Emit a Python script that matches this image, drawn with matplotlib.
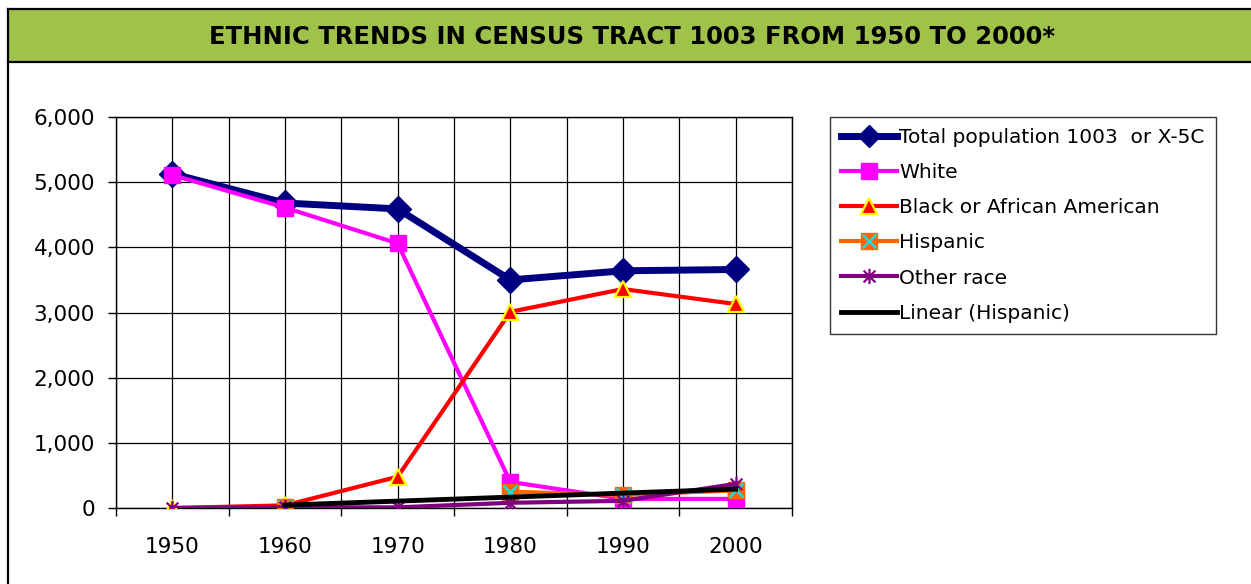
import matplotlib
matplotlib.use('Agg')
import numpy as np
import matplotlib.pyplot as plt
from matplotlib.path import Path
from matplotlib.lines import Line2D
from matplotlib.patches import Rectangle
from matplotlib.ticker import FuncFormatter

plt.rcParams['font.family'] = ['DejaVu Sans']

# data
years = [1950, 1960, 1970, 1980, 1990, 2000]
total = [5130, 4680, 4590, 3500, 3640, 3660]
white = [5110, 4610, 4060, 400, 140, 140]
black = [0, 40, 480, 3010, 3360, 3130]
hispanic = [np.nan, 10, np.nan, 250, 200, 270]
other = [0, 10, 10, 80, 110, 370]

title = 'ETHNIC TRENDS IN CENSUS TRACT 1003 FROM 1950 TO 2000*'
labels = ['Total population 1003  or X-5C', 'White', 'Black or African American',
          'Hispanic', 'Other race', 'Linear (Hispanic)']

# excel style asterisk marker: X plus a vertical bar
star = Path([(-1, -1), (1, 1), (-1, 1), (1, -1), (0, -1.3), (0, 1.3)],
            [Path.MOVETO, Path.LINETO, Path.MOVETO, Path.LINETO, Path.MOVETO, Path.LINETO])

fig = plt.figure(figsize=(12.51, 5.84), dpi=100)

# frame + green title band
W, H = 1251.0, 584.0
fig.patches.append(Rectangle((8 / W, 1 - 62 / H), 1 - 8 / W, 53 / H, transform=fig.transFigure,
                             facecolor='#9FC24B', edgecolor='none', zorder=0))
fig.add_artist(Line2D([8 / W, 1], [1 - 9 / H, 1 - 9 / H], color='black', lw=1.6))
fig.add_artist(Line2D([8 / W, 1], [1 - 62 / H, 1 - 62 / H], color='black', lw=1.6))
fig.add_artist(Line2D([8 / W, 8 / W], [0, 1 - 9 / H], color='black', lw=1.6))
fig.text(632 / W, 1 - 37 / H, title, ha='center', va='center',
         fontsize=17.5, fontweight='bold', color='black')

ax = fig.add_axes([116 / W, 76 / H, 676 / W, 391 / H])

ax.plot(years, total, color='#000080', lw=5, marker='D', ms=13, zorder=3)
ax.plot(years, white, color='#FF00FF', lw=3, marker='s', ms=11.5, zorder=4)
ax.plot(years, black, color='#FF0000', lw=3, marker='^', ms=11, mfc='#FF0000',
        mec='#FFFF00', mew=1.6, zorder=5)
ax.plot(years, hispanic, color='#FF6600', lw=3, marker='s', ms=11, zorder=6)
ax.plot(years, hispanic, ls='none', marker='x', ms=10, mec='#00E5E5', mew=1.8, zorder=6)
ax.plot(years, other, color='#800080', lw=3, marker=star, ms=11, mew=1.6, zorder=7)

# linear trend on the hispanic series
hx = np.array([y for y, v in zip(years, hispanic) if not np.isnan(v)])
hy = np.array([v for v in hispanic if not np.isnan(v)])
k, c = np.polyfit(hx, hy, 1)
tx = np.array([1960, 2000])
ax.plot(tx, k * tx + c, color='black', lw=3.5, zorder=8)

ax.set_xlim(1945, 2005)
ax.set_ylim(0, 6000)
ax.set_xticks(np.arange(1945, 2006, 10))
ax.set_xticklabels([])
ax.set_xticks(years, minor=True)
ax.set_xticklabels([str(y) for y in years], minor=True)
ax.set_yticks(np.arange(0, 6001, 1000))
ax.yaxis.set_major_formatter(FuncFormatter(lambda v, p: f'{int(v):,}'))
ax.tick_params(axis='x', which='major', direction='out', length=6, width=1)
ax.tick_params(axis='x', which='minor', length=0, pad=21, labelsize=15.5)
ax.tick_params(axis='y', direction='out', length=6, width=1, pad=9, labelsize=15.5)
ax.grid(True, which='both', axis='x', color='black', lw=0.9)
ax.grid(True, which='major', axis='y', color='black', lw=0.9)
ax.set_axisbelow(True)
for s in ax.spines.values():
    s.set_color('black')
    s.set_linewidth(1)

h_total = Line2D([], [], color='#000080', lw=5, marker='D', ms=11)
h_white = Line2D([], [], color='#FF00FF', lw=3, marker='s', ms=11)
h_black = Line2D([], [], color='#FF0000', lw=3, marker='^', ms=11, mfc='#FF0000', mec='#FFFF00', mew=1.6)
h_hisp = (Line2D([], [], color='#FF6600', lw=3, marker='s', ms=11),
          Line2D([], [], ls='none', marker='x', ms=10, mec='#00E5E5', mew=1.8))
h_other = Line2D([], [], color='#800080', lw=3, marker=star, ms=11, mew=1.6)
h_lin = Line2D([], [], color='black', lw=3.5)

leg = fig.legend([h_total, h_white, h_black, h_hisp, h_other, h_lin], labels,
                 loc='upper left', bbox_to_anchor=(830 / W, 1 - 117 / H),
                 fontsize=14.5, frameon=True, fancybox=False, edgecolor='black',
                 handlelength=2.8, handletextpad=0.1, labelspacing=0.8,
                 borderpad=0.55, borderaxespad=0)
leg.get_frame().set_linewidth(1)

plt.savefig('out.png', dpi=100)
